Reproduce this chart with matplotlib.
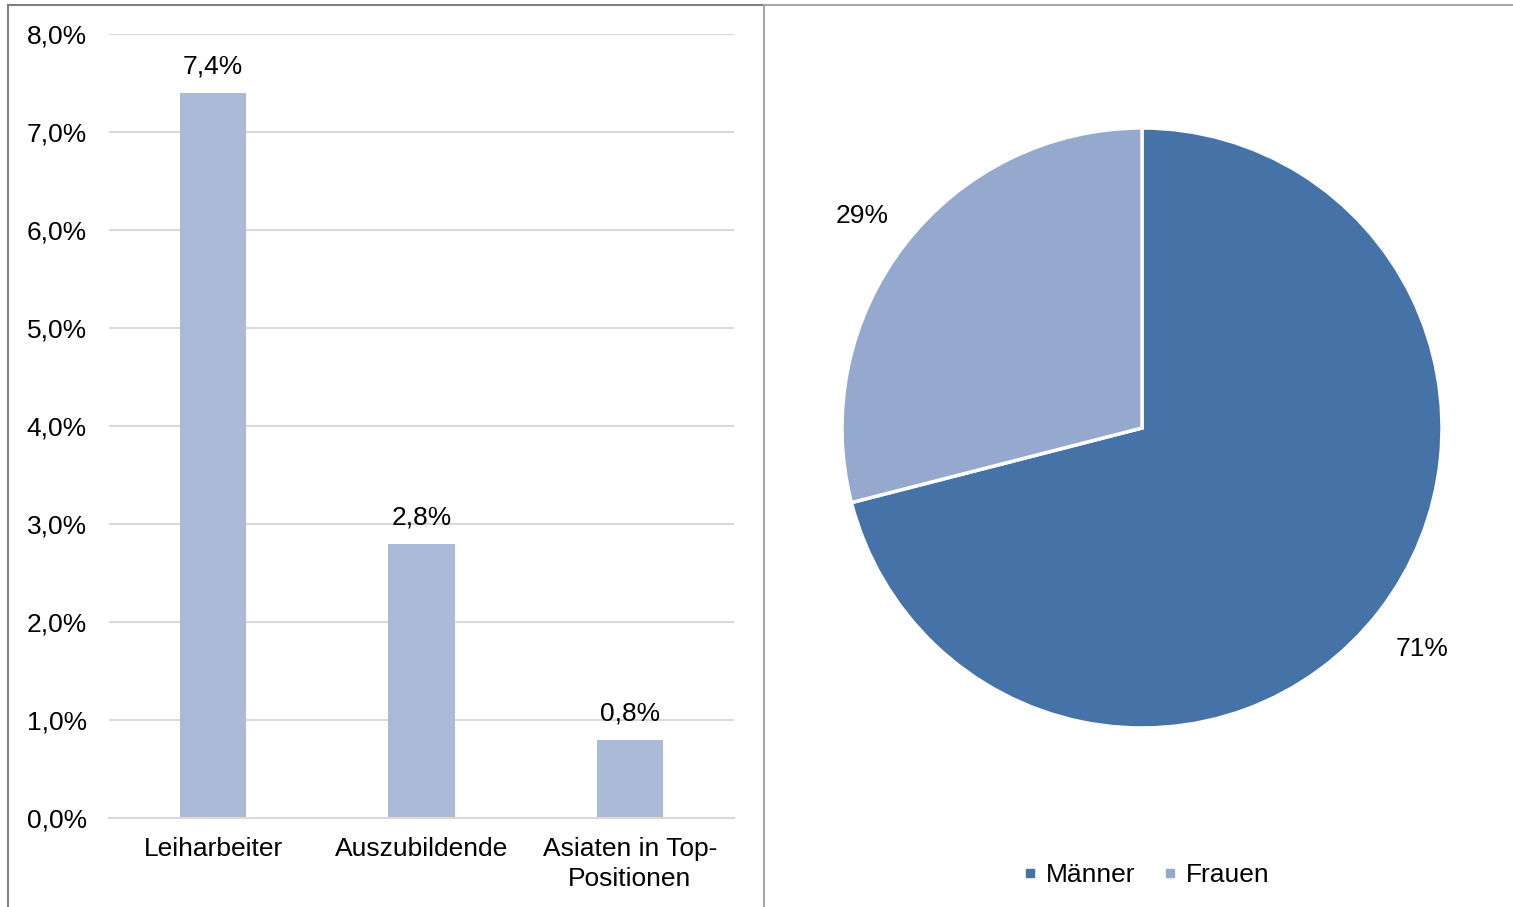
import numpy as np
import matplotlib.pyplot as plt
from matplotlib.lines import Line2D
from matplotlib.ticker import FuncFormatter

plt.rcParams['font.family'] = ['Liberation Sans', 'DejaVu Sans']

# bar chart data
categories = ['Leiharbeiter', 'Auszubildende', 'Asiaten in Top-\nPositionen']
shares = [7.4, 2.8, 0.8]
yticks = [0, 1, 2, 3, 4, 5, 6, 7, 8]

# pie chart data
pie_labels = ['Männer', 'Frauen']
pie_values = [71, 29]

bar_color = '#ABBAD7'
pie_colors = ['#4673A7', '#95A9CF']
fs = 19

W, H = 1513, 907
fig = plt.figure(figsize=(W / 100, H / 100), dpi=100)

# left: bar chart
ax = fig.add_axes([109 / W, 89 / H, 625 / W, 784 / H])
x = range(len(categories))
bars = ax.bar(x, shares, width=0.317, color=bar_color, zorder=3)
ax.bar_label(bars, labels=[f'{v:.1f}%'.replace('.', ',') for v in shares],
             padding=10.5, fontsize=fs)
ax.set_xlim(-0.5, 2.5)
ax.set_ylim(0, 8)
ax.set_yticks(yticks)
ax.yaxis.set_major_formatter(FuncFormatter(lambda v, p: f'{v:.1f}%'.replace('.', ',')))
ax.set_xticks(list(x))
ax.set_xticklabels(categories, fontsize=fs, linespacing=1.3)
ax.tick_params(axis='y', length=0, pad=16, labelsize=fs)
ax.tick_params(axis='x', length=0, pad=14)
ax.grid(axis='y', color='#D9D9D9', linewidth=1.5, zorder=0)
for s in ['top', 'right', 'left']:
    ax.spines[s].set_visible(False)
ax.spines['bottom'].set_color('#D9D9D9')
ax.spines['bottom'].set_linewidth(1.5)
ax.spines['bottom'].set_zorder(4)

# right: pie chart
r = 300
cx, cy = 1142, 907 - 428
pax = fig.add_axes([(cx - r) / W, (cy - r) / H, 2 * r / W, 2 * r / H])
wedges, _ = pax.pie(pie_values, colors=pie_colors, startangle=90, counterclock=False,
                    wedgeprops=dict(edgecolor='white', linewidth=2.5))
for w, v in zip(wedges, pie_values):
    ang = np.deg2rad((w.theta1 + w.theta2) / 2)
    pax.text(1.18 * np.cos(ang), 1.18 * np.sin(ang) - 0.015, f'{v}%', fontsize=fs,
             ha='center', va='center')
pax.set_xlim(-1, 1)
pax.set_ylim(-1, 1)
pax.set_aspect('equal')
pax.axis('off')

handles = [Line2D([], [], marker='s', linestyle='none', markersize=6,
                  markerfacecolor=c, markeredgecolor=c) for c in pie_colors]
fig.legend(handles, pie_labels, loc='center', bbox_to_anchor=(1146 / W, 1 - 875 / H),
           ncol=2, frameon=False, fontsize=fs, handlelength=0.6, handletextpad=0.3,
           columnspacing=1.0)

# panel frames
fig.add_artist(Line2D([8 / W, 764 / W], [1 - 5 / H, 1 - 5 / H], color='#808080', linewidth=1.5))
fig.add_artist(Line2D([8 / W, 8 / W], [0, 1 - 5 / H], color='#808080', linewidth=1.5))
fig.add_artist(Line2D([764 / W, 1], [1 - 5 / H, 1 - 5 / H], color='#A6A6A6', linewidth=1.5))
fig.add_artist(Line2D([764 / W, 764 / W], [0, 1 - 5 / H], color='#A6A6A6', linewidth=1.5))

fig.savefig('out.png', dpi=100, facecolor='white')
